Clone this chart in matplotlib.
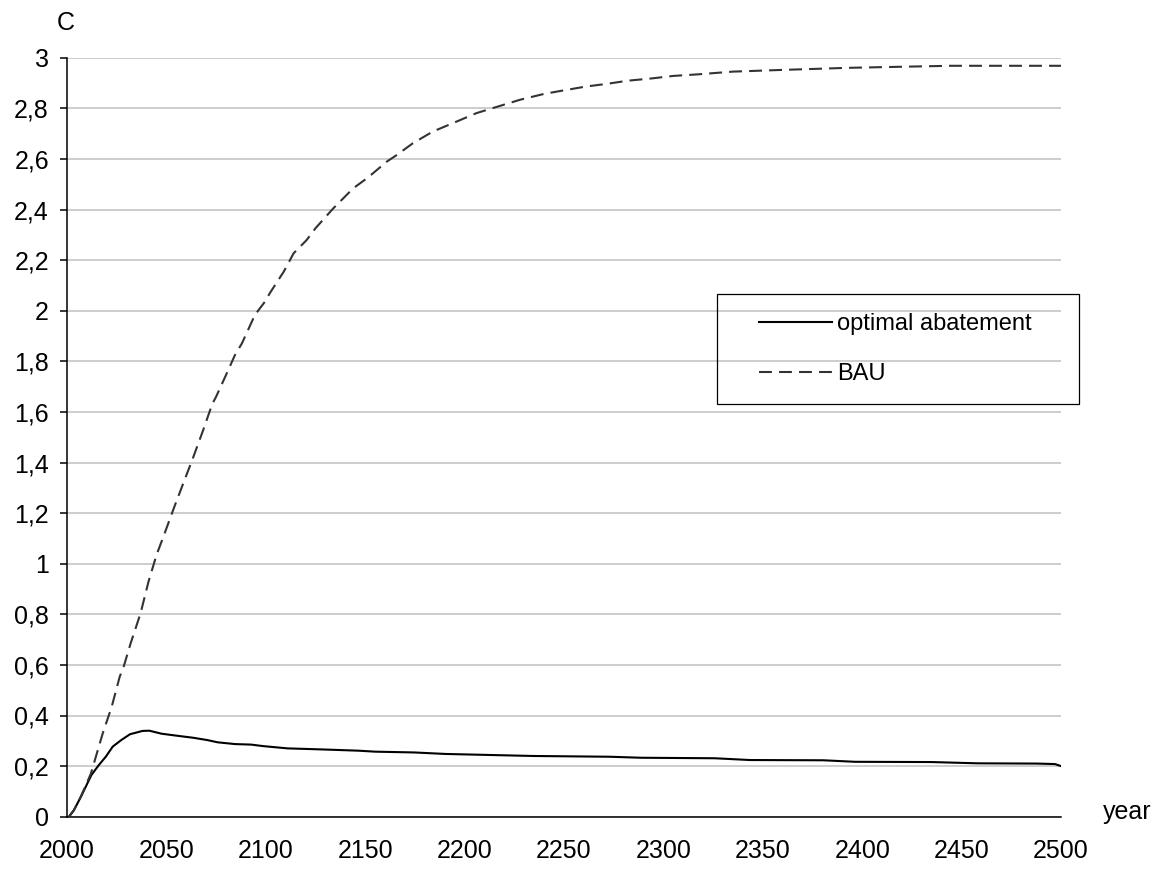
import matplotlib
matplotlib.use('Agg')
import matplotlib.pyplot as plt
from matplotlib.patches import Rectangle
from matplotlib.ticker import FuncFormatter, MultipleLocator

plt.rcParams['font.family'] = ['Liberation Sans', 'DejaVu Sans']

# optimal abatement path
years_opt = [2001, 2003.5, 2007, 2012.3, 2016, 2019.5, 2023, 2027.3, 2031.7, 2038, 2041.4,
             2047.6, 2056.4, 2063.5, 2070.5, 2075.8, 2084.6, 2092.6, 2098.7, 2111, 2127.8,
             2146.4, 2155.2, 2174.5, 2190.4, 2234.5, 2273, 2288.8, 2325.8, 2343.5, 2380.5,
             2396.4, 2435, 2458, 2488, 2497, 2500]
c_opt = [0, 0.026, 0.079, 0.165, 0.204, 0.237, 0.277, 0.303, 0.326, 0.339, 0.34,
         0.328, 0.319, 0.312, 0.303, 0.294, 0.287, 0.285, 0.279, 0.270, 0.266,
         0.261, 0.257, 0.254, 0.248, 0.24, 0.237, 0.233, 0.231, 0.224, 0.223,
         0.217, 0.216, 0.211, 0.21, 0.208, 0.2]

# business as usual
years_bau = [2001, 2003.5, 2007, 2012, 2018, 2022.5, 2026.5, 2028.5, 2032, 2037, 2041, 2045,
             2048.5, 2054, 2058.5, 2063, 2068.5, 2073, 2075, 2080, 2084.5, 2088, 2094.5,
             2099.5, 2102, 2109, 2114, 2120.5, 2125, 2134, 2144, 2151, 2161, 2166, 2174,
             2184, 2194, 2206, 2218, 2228, 2240, 2250, 2261, 2271, 2282, 2294, 2305, 2317,
             2335, 2357, 2393, 2444, 2500]
c_bau = [0, 0.026, 0.08, 0.17, 0.33, 0.435, 0.553, 0.593, 0.685, 0.804, 0.929, 1.034,
         1.107, 1.225, 1.318, 1.41, 1.528, 1.63, 1.66, 1.746, 1.825, 1.871, 1.983,
         2.035, 2.069, 2.154, 2.227, 2.279, 2.326, 2.405, 2.484, 2.524, 2.59, 2.616, 2.662,
         2.708, 2.741, 2.781, 2.81, 2.834, 2.857, 2.871, 2.886, 2.896, 2.909, 2.918, 2.928, 2.934,
         2.945, 2.951, 2.96, 2.968, 2.968]

W, H = 1161, 869
fig = plt.figure(figsize=(W / 100, H / 100), dpi=100)
ax = fig.add_axes([67 / W, (H - 816.7) / H, (1061 - 67) / W, (816.7 - 57.7) / H])

ax.plot(years_opt, c_opt, color='black', lw=1.5, label='optimal abatement', zorder=3)
ax.plot(years_bau, c_bau, color='#333333', lw=1.5, ls=(0, (6.2, 3.4)), label='BAU', zorder=3)

ax.set_xlim(2000, 2500)
ax.set_ylim(0, 3)
ax.xaxis.set_major_locator(MultipleLocator(50))
ax.yaxis.set_major_locator(MultipleLocator(0.2))
ax.yaxis.set_major_formatter(FuncFormatter(lambda v, p: f"{v:.1f}".rstrip('0').rstrip('.').replace('.', ',')))
ax.grid(axis='y', color='#c0c0c0', lw=1.1, zorder=0)
ax.set_axisbelow(True)

for s in ['top', 'right']:
    ax.spines[s].set_visible(False)
for s in ['left', 'bottom']:
    ax.spines[s].set_linewidth(1.1)
ax.tick_params(axis='y', length=5, width=1.1, pad=8, labelsize=18, direction='out')
ax.tick_params(axis='x', length=0, pad=16, labelsize=18)

fig.text(66 / W, 1 - 23 / H, 'C', fontsize=18, ha='center', va='center')
fig.text(1103 / W, 1 - 812 / H, 'year', fontsize=18, ha='left', va='center')

# legend box
fig.patches.append(Rectangle((717 / W, 1 - 404 / H), 362 / W, 110 / H,
                             transform=fig.transFigure, fill=False, ec='black', lw=0.9))
ax.legend(loc='center left', bbox_to_anchor=(759 / W, 1 - 349 / H), bbox_transform=fig.transFigure,
          frameon=False, fontsize=17, handlelength=3.1, handletextpad=0.2, borderpad=0,
          borderaxespad=0, labelspacing=1.2)

fig.savefig('out.png', dpi=100)
